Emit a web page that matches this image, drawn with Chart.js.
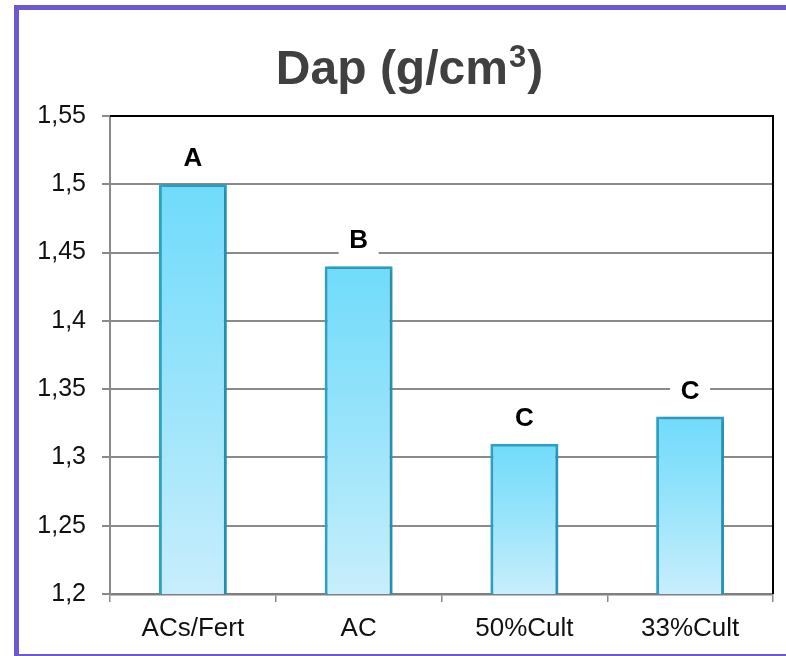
<!DOCTYPE html>
<html>
<head>
<meta charset="utf-8">
<script src="https://cdn.jsdelivr.net/npm/chart.js@4.4.1/dist/chart.umd.min.js"></script>
<style>
  html, body { margin: 0; padding: 0; background: #fff; overflow: hidden; }
  #frame {
    position: absolute; left: 14px; top: 5px;
    width: 820px; height: 644px;
    border: 5px solid #6b59cf; box-sizing: content-box;
  }
  #c { position: absolute; left: 0; top: 0; }
</style>
</head>
<body>
<div id="frame"></div>
<canvas id="c" width="786" height="656"></canvas>
<script>
// Bulk density per management system
const categories = ['ACs/Fert', 'AC', '50%Cult', '33%Cult'];
const dapValues = [1.50, 1.44, 1.31, 1.33];
const groupLetters = ['A', 'B', 'C', 'C'];
const yTickLabels = ['1,2', '1,25', '1,3', '1,35', '1,4', '1,45', '1,5', '1,55'];
const titleMain = 'Dap (g/cm';
const titleSup = '3';
const titleEnd = ')';

const FONT = "'Liberation Sans', Arial, sans-serif";

// Vertical gradient per bar: saturated cyan at the top, pale at the base
function barFill(ctx) {
  const chart = ctx.chart;
  const area = chart.chartArea;
  if (!area || !ctx.parsed) return '#8fe0fb';
  const y = chart.scales.y;
  const top = y.getPixelForValue(ctx.parsed.y);
  const g = chart.ctx.createLinearGradient(0, top, 0, area.bottom);
  g.addColorStop(0, '#70dbfb');
  g.addColorStop(0.45, '#95e3fb');
  g.addColorStop(1, '#c8eefc');
  return g;
}

// Soft shadow behind bars
const barShadow = {
  id: 'barShadow',
  beforeDatasetsDraw(chart) {
    const c = chart.ctx;
    c.save();
    c.shadowColor = 'rgba(0,0,0,0.22)';
    c.shadowBlur = 5;
    c.shadowOffsetX = 2;
    c.shadowOffsetY = 1;
  },
  afterDatasetsDraw(chart) {
    chart.ctx.restore();
  }
};

// Black frame on the top and right edge of the plot area
const plotFrame = {
  id: 'plotFrame',
  afterDraw(chart) {
    const { left, right, top, bottom } = chart.chartArea;
    const c = chart.ctx;
    c.save();
    c.strokeStyle = '#000';
    c.lineWidth = 2;
    c.beginPath();
    c.moveTo(left, top);
    c.lineTo(right, top);
    c.lineTo(right, bottom);
    c.stroke();
    c.restore();
  }
};

// Title with a raised exponent, centred over the plot
const chartTitle = {
  id: 'chartTitle',
  afterDraw(chart) {
    const c = chart.ctx;
    const { left, right } = chart.chartArea;
    c.save();
    c.fillStyle = '#404040';
    c.textBaseline = 'alphabetic';
    c.textAlign = 'left';
    const mainFont = 'bold 48px ' + FONT;
    const supFont = 'bold 31px ' + FONT;
    c.font = mainFont;
    const w1 = c.measureText(titleMain).width;
    const w3 = c.measureText(titleEnd).width;
    c.font = supFont;
    const w2 = c.measureText(titleSup).width;
    const total = w1 + w2 + 2 + w3;
    let x = (left + right) / 2 - total / 2 - 32;
    const base = 84;
    c.font = mainFont;
    c.fillText(titleMain, x, base);
    x += w1 + 1;
    c.font = supFont;
    c.fillText(titleSup, x, base - 17);
    x += w2 + 1;
    c.font = mainFont;
    c.fillText(titleEnd, x, base);
    c.restore();
  }
};

// Significance letters above each bar, on a white patch
const letterLabels = {
  id: 'letterLabels',
  afterDraw(chart) {
    const meta = chart.getDatasetMeta(0);
    const c = chart.ctx;
    c.save();
    c.font = 'bold 26px ' + FONT;
    c.textAlign = 'center';
    c.textBaseline = 'middle';
    meta.data.forEach((bar, i) => {
      const cx = bar.x;
      const cy = bar.y - 26;
      c.fillStyle = '#fff';
      c.fillRect(cx - 20, cy - 14, 40, 28);
      c.fillStyle = '#000';
      c.fillText(groupLetters[i], cx, cy + 1);
    });
    c.restore();
  }
};

new Chart(document.getElementById('c'), {
  type: 'bar',
  data: {
    labels: categories,
    datasets: [{
      data: dapValues,
      backgroundColor: barFill,
      borderColor: '#2aa4c8',
      borderWidth: 3,
      borderSkipped: false,
      barPercentage: 0.41,
      categoryPercentage: 1.0
    }]
  },
  options: {
    responsive: false,
    animation: false,
    layout: { padding: { top: 116, left: 22, right: 13, bottom: 10 } },
    plugins: {
      legend: { display: false },
      tooltip: { enabled: false },
      title: { display: false }
    },
    scales: {
      x: {
        grid: {
          drawOnChartArea: false,
          drawTicks: true,
          tickLength: 8,
          color: '#8a8a8a',
          lineWidth: 1.5
        },
        border: { color: '#7f7f7f', width: 2.5 },
        ticks: {
          color: '#111',
          padding: 11,
          font: { family: FONT, size: 26 }
        },
        afterFit(scale) { scale.height = 52; }
      },
      y: {
        min: 1.2,
        max: 1.55,
        ticks: {
          stepSize: 0.05,
          color: '#111',
          padding: 16,
          font: { family: FONT, size: 25 },
          callback: (v, i) => yTickLabels[i]
        },
        grid: {
          color: '#8a8a8a',
          lineWidth: 2,
          tickLength: 8
        },
        border: { color: '#8a8a8a', width: 2 },
        afterFit(scale) { scale.width = 88; }
      }
    }
  },
  plugins: [barShadow, plotFrame, chartTitle, letterLabels]
});
</script>
</body>
</html>
